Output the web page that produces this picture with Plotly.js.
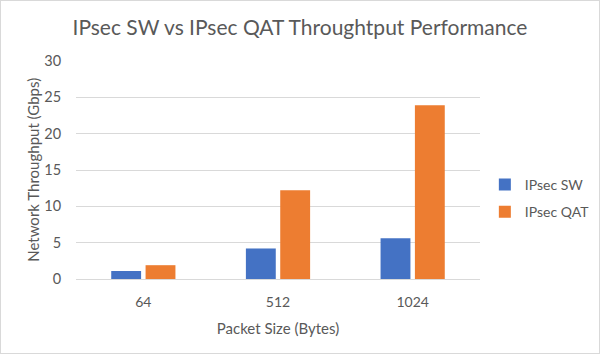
<!DOCTYPE html>
<html><head><meta charset="utf-8">
<script src="https://cdn.plot.ly/plotly-3.0.1.min.js"></script>
<style>html,body{margin:0;padding:0;background:#fff}#c{width:600px;height:354px;box-sizing:border-box;border:1px solid #d9d9d9}</style>
</head><body><div id="c"></div>
<script>
const categories = ["64", "512", "1024"];
const swValues = [1.1, 4.2, 5.6];
const qatValues = [1.9, 12.2, 23.9];
const yTicks = [0, 5, 10, 15, 20, 25, 30];
const font = "Lato, 'Open Sans', sans-serif";
const data = [
  {type:"bar", name:"IPsec SW", legendgroup:"sw", x:categories, y:swValues, marker:{color:"#4472c4"}},
  {type:"bar", name:"IPsec QAT", legendgroup:"qat", x:categories, y:qatValues, marker:{color:"#ed7d31"}}
];
const layout = {
  width:598, height:352,
  margin:{l:75, r:119, t:60, b:74, autoexpand:false},
  paper_bgcolor:"#fff", plot_bgcolor:"#fff",
  font:{family:font, color:"#595959", size:14},
  title:{text:"IPsec SW vs IPsec QAT Throughtput Performance", font:{size:21, color:"#595959", family:font}, x:0.5, xanchor:"center", y:0.925, yanchor:"middle"},
  barmode:"group", bargap:0.49, bargroupgap:0.13,
  xaxis:{type:"category", title:{text:"Packet Size (Bytes)", font:{size:15}, standoff:14}, showline:true, linecolor:"#d9d9d9", ticks:"outside", ticklen:10, tickcolor:"rgba(0,0,0,0)", tickfont:{size:14}},
  yaxis:{range:[0,30], tickvals:yTicks, gridcolor:"#d9d9d9", zeroline:false, ticks:"outside", ticklen:11, tickcolor:"rgba(0,0,0,0)", tickfont:{size:14.5}},
  annotations:[{text:"Network Throughput (Gbps)", textangle:-90, xref:"paper", yref:"paper", x:-0.107, y:0.5, xanchor:"center", yanchor:"middle", showarrow:false, font:{size:15, color:"#595959"}}],
  legend:{x:1.012, xanchor:"left", y:0.37, yanchor:"middle", font:{size:14}, tracegroupgap:6, itemwidth:30}
};
Plotly.newPlot("c", data, layout, {displayModeBar:false});
</script></body></html>
